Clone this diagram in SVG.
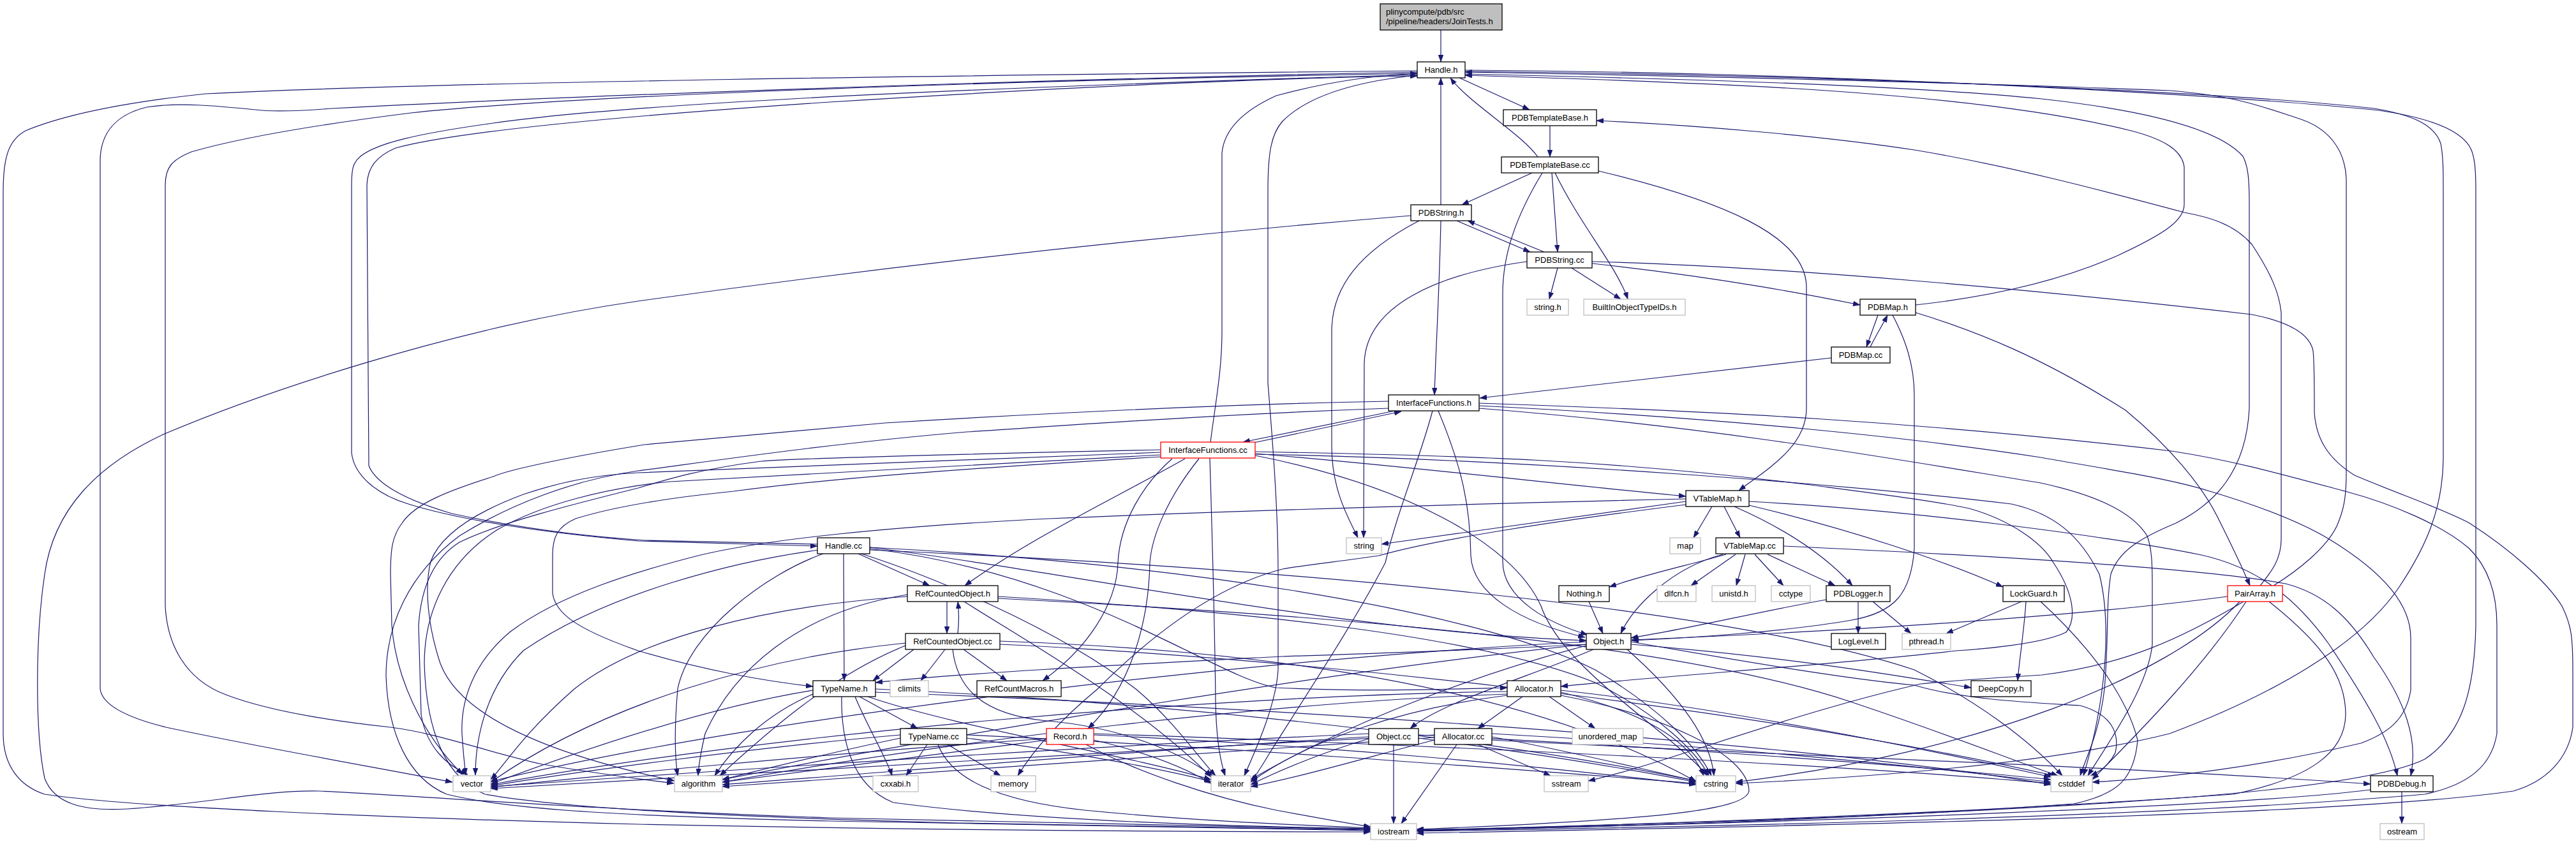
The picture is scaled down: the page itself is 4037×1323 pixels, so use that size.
<svg xmlns="http://www.w3.org/2000/svg" width="4037" height="1323" viewBox="0 0 4037 1323">
<style>
.n{fill:#fff;stroke:#000;stroke-width:1.3}
.x{fill:#fff;stroke:#bfbfbf;stroke-width:1.3}
.r{fill:#fff;stroke:#ff0000;stroke-width:1.3}
.t{font-family:"Liberation Sans",Arial,sans-serif;font-size:13px;fill:#000;text-anchor:middle}
.tl{font-family:"Liberation Sans",Arial,sans-serif;font-size:13px;fill:#000}
.e path{fill:none;stroke:#191970;stroke-width:1.2;marker-end:url(#a)}
</style>
<defs>
<marker id="a" markerWidth="11" markerHeight="8" refX="11" refY="4" orient="auto" markerUnits="userSpaceOnUse"><path d="M0,0 L11,4 L0,8 z" fill="#191970" stroke="#191970" stroke-width="0.5"/></marker>
</defs>
<rect width="4037" height="1323" fill="#fff"/>
<g id="edges" class="e">
<path d="M2258,47 L2258,97"/>
<path d="M2287,122 L2397,172"/>
<path d="M2429,197 L2429,246"/>
<path d="M2410,246 C2385,210 2300,160 2273,122"/>
<path d="M2258,321 L2258,122"/>
<path d="M2401,271 L2291,321"/>
<path d="M2432,271 L2441,395"/>
<path d="M2437,271 C2475,350 2535,420 2551,469"/>
<path d="M2417,271 C2375,340 2355,400 2355,460 L2355,880 C2355,940 2430,978 2488,995"/>
<path d="M2505,268 C2700,315 2831,370 2831,450 L2831,640 C2831,700 2770,735 2725,769"/>
<path d="M2283,346 L2398,395"/>
<path d="M2420,395 L2300,346"/>
<path d="M2258,346 C2256,450 2250,550 2248,619"/>
<path d="M2224,346 C2130,395 2087,450 2087,520 L2087,700 C2087,770 2115,815 2128,843"/>
<path d="M2393,410 C2250,430 2140,480 2138,570 L2137,843"/>
<path d="M2211,338 C1700,380 1300,430 1000,472 C700,515 400,620 258,680 C150,730 84,800 70,900 C55,1000 55,1150 70,1220 C85,1260 130,1272 200,1268 C320,1260 420,1238 500,1240 C620,1245 900,1268 1300,1282 C1700,1292 2000,1298 2148,1300"/>
<path d="M2221,111 C1500,118 700,128 322,147 C200,160 100,180 40,205 C12,220 5,250 5,300 L5,1150 C5,1200 30,1232 70,1245 C200,1265 600,1282 1000,1292 C1500,1302 1900,1304 2148,1304"/>
<path d="M2221,113 C1600,125 900,150 520,170 C470,174 430,176 400,172 C340,166 280,160 230,168 C180,180 158,210 157,250 L157,1080 C160,1105 200,1125 260,1140 C400,1170 600,1205 709,1226"/>
<path d="M2221,115 C1500,128 900,150 644,177 C500,195 380,215 300,238 C270,250 259,262 259,290 L259,950 C262,1010 290,1065 354,1089 C430,1118 540,1132 612,1140 C690,1150 760,1178 850,1198 C950,1215 1010,1222 1056,1228"/>
<path d="M2221,117 C1600,135 1000,160 773,193 C650,210 590,225 565,245 C553,255 551,265 551,290 L551,710 C555,745 590,775 640,790 C720,815 850,835 1000,848 C1150,853 1230,855 1281,856"/>
<path d="M1281,853 C1200,851 1100,849 1010,847 C900,840 800,825 708,805 C640,785 590,760 578,730 L575,290 C576,262 590,245 620,232 C720,205 1000,180 1300,160 C1700,135 2000,122 2221,119"/>
<path d="M1897,693 C1905,630 1915,580 1915,520 L1915,240 C1918,205 1945,175 2000,150 C2080,128 2160,118 2221,115"/>
<path d="M1896,718 C1900,850 1904,1000 1905,1100 C1906,1160 1913,1195 1920,1216"/>
<path d="M2221,118 C2100,130 2040,160 2010,190 C1992,210 1987,240 1987,300 L1987,600 C1995,700 2003,800 2003,900 L2003,1050 C2000,1100 1975,1160 1950,1216"/>
<path d="M3002,478 C3120,465 3230,440 3320,400 C3395,365 3423,345 3423,320 L3423,262 C3420,235 3390,218 3340,205 C3200,170 3000,150 2800,138 C2600,127 2400,121 2296,118"/>
<path d="M2296,116 C2700,125 3000,135 3200,155 C3380,175 3480,205 3515,245 C3523,260 3525,280 3525,320 L3525,640 C3520,740 3470,790 3410,820 C3350,845 3320,865 3308,900 C3300,950 3305,1000 3298,1080 C3290,1150 3268,1190 3260,1216"/>
<path d="M3563,918 C3600,895 3645,860 3662,825 C3673,800 3677,780 3677,740 L3677,280 C3675,235 3650,200 3600,185 C3540,165 3500,150 3400,142 C3100,130 2600,118 2296,113"/>
<path d="M2296,112 C2900,118 3500,145 3721,170 C3780,180 3815,195 3825,225 C3829,245 3829,270 3829,300 L3829,720 C3828,800 3800,860 3760,920 C3700,1010 3560,1090 3400,1150 C3200,1200 2900,1220 2720,1228"/>
<path d="M2296,110 C2900,114 3500,150 3728,173 C3810,185 3860,205 3873,235 C3879,250 3880,270 3880,300 L3880,980 C3878,1080 3860,1150 3800,1190 C3700,1240 3300,1262 2900,1280 C2600,1292 2350,1298 2220,1302"/>
<path d="M3542,918 C3556,900 3575,880 3575,845 L3575,490 C3572,460 3560,430 3529,383 C3500,350 3460,340 3423,333 C3300,300 3150,260 3000,235 C2850,212 2650,196 2502,189"/>
<path d="M2441,420 L2428,469"/>
<path d="M2463,420 L2540,469"/>
<path d="M2495,413 C2700,435 2850,465 2915,478"/>
<path d="M2495,410 C2800,418 3200,455 3529,493 C3590,505 3620,525 3625,550 C3627,570 3627,600 3627,647 C3630,690 3650,720 3690,745 C3760,775 3827,797 3870,820 C3932,860 3990,910 4015,950 C4030,980 4032,1000 4032,1050 L4032,1140 C4025,1190 3990,1225 3939,1240 C3700,1275 3000,1292 2220,1306"/>
<path d="M2943,494 L2925,544"/>
<path d="M2931,544 C2940,525 2950,510 2958,494"/>
<path d="M2870,561 L2319,624"/>
<path d="M3002,490 C3100,520 3200,560 3331,643 C3400,700 3450,760 3475,810 C3495,850 3510,880 3526,918"/>
<path d="M2966,494 C2985,530 3000,570 3000,620 L3000,860 C2995,930 2970,960 2902,972 C2800,990 2650,1000 2557,1004"/>
<path d="M2186,644 L1948,693"/>
<path d="M1960,695 L2196,645"/>
<path d="M2254,644 C2290,730 2304,790 2305,871 C2308,930 2380,975 2484,999"/>
<path d="M2245,644 C2225,720 2190,800 2171,882 C2120,980 2040,1100 1990,1180 C1975,1205 1965,1220 1960,1226"/>
<path d="M2176,629 C1900,634 1600,650 1387,663 C1200,680 1080,690 1010,697 C900,715 800,735 773,747 C700,770 650,790 630,820 C615,840 612,860 612,900 L614,980 C620,1060 660,1150 725,1214"/>
<path d="M2176,640 C1900,650 1700,665 1515,677 C1300,695 1100,725 1000,738 C900,752 800,790 720,840 C640,900 605,980 605,1060 C608,1150 640,1220 700,1245 C800,1270 1000,1280 1300,1287 C1700,1295 2000,1300 2148,1302"/>
<path d="M1819,705 C1500,712 1250,718 1193,723 C1100,735 1050,750 1000,765 C900,790 780,820 720,850 C680,875 660,920 656,980 L660,1120 C668,1170 700,1200 733,1214"/>
<path d="M1819,709 C1500,722 1200,733 1000,741 C930,745 880,755 820,775 C740,805 690,840 675,880 C665,920 670,980 690,1040 C720,1120 850,1180 1057,1224"/>
<path d="M1819,713 C1500,728 1200,745 1050,755 C950,765 850,790 780,830 C700,880 665,960 665,1040 C668,1150 700,1220 760,1245 C900,1270 1200,1282 1500,1290 C1800,1296 2000,1299 2148,1301"/>
<path d="M1819,716 C1500,735 1300,750 1150,770 C1050,780 960,795 902,813 C875,825 866,840 866,870 L866,930 C870,960 900,985 1000,1020 C1100,1050 1200,1068 1274,1076"/>
<path d="M2642,782 C2300,790 2000,798 1644,813 C1400,825 1200,845 1094,871 C1000,895 880,930 800,990 C740,1040 722,1100 724,1150 C726,1180 728,1200 730,1215"/>
<path d="M2642,791 C2450,815 2250,845 2161,871 C2100,880 2050,885 2010,892 C1900,920 1800,1000 1720,1080 C1660,1130 1620,1175 1595,1216"/>
<path d="M1283,862 C1150,880 950,930 820,1020 C760,1080 745,1160 745,1215"/>
<path d="M1422,935 C1200,950 1000,1000 900,1080 C820,1150 790,1200 769,1222"/>
<path d="M1419,1008 C1200,1030 950,1100 769,1226"/>
<path d="M1274,1082 C1100,1110 900,1180 769,1229"/>
<path d="M1411,1152 C1200,1170 900,1210 769,1232"/>
<path d="M1640,1158 C1300,1180 900,1220 769,1234"/>
<path d="M2362,1084 C1900,1090 1200,1150 769,1230"/>
<path d="M2145,1150 C1700,1170 1100,1210 769,1233"/>
<path d="M2248,1152 C1700,1180 1100,1215 769,1236"/>
<path d="M2486,1006 C2000,1030 1200,1120 769,1225"/>
<path d="M1422,932 C1250,960 1150,1050 1105,1150 C1098,1180 1095,1200 1094,1216"/>
<path d="M1274,1088 C1200,1120 1150,1170 1120,1216"/>
<path d="M1290,868 C1200,900 1080,990 1062,1080 C1056,1150 1058,1190 1062,1216"/>
<path d="M1411,1157 C1300,1180 1200,1205 1132,1222"/>
<path d="M1640,1160 C1450,1185 1250,1210 1132,1226"/>
<path d="M2362,1088 C2000,1100 1500,1160 1132,1226"/>
<path d="M2145,1155 C1800,1175 1400,1210 1132,1230"/>
<path d="M2248,1156 C1800,1185 1400,1215 1132,1233"/>
<path d="M2486,1010 C2100,1050 1500,1150 1132,1222"/>
<path d="M1419,1012 C1300,1060 1200,1150 1128,1216"/>
<path d="M1511,943 C1600,1000 1780,1100 1898,1218"/>
<path d="M1493,1018 C1500,1080 1540,1120 1640,1130 C1760,1140 1850,1180 1900,1216"/>
<path d="M1350,868 C1450,900 1650,980 1780,1080 C1840,1130 1880,1190 1905,1216"/>
<path d="M1360,1092 C1500,1140 1750,1180 1898,1222"/>
<path d="M1515,1157 C1650,1175 1800,1200 1898,1225"/>
<path d="M1714,1160 C1800,1180 1860,1205 1898,1228"/>
<path d="M2362,1090 C2200,1110 2050,1160 1960,1226"/>
<path d="M2145,1158 C2070,1180 2000,1210 1960,1230"/>
<path d="M2248,1160 C2150,1185 2050,1215 1960,1233"/>
<path d="M2486,1012 C2300,1060 2100,1140 1960,1222"/>
<path d="M1340,1092 C1360,1140 1390,1190 1398,1216"/>
<path d="M1453,1167 L1420,1216"/>
<path d="M1485,1167 L1568,1216"/>
<path d="M2446,1085 C2550,1110 2644,1149 2670,1216"/>
<path d="M2550,1018 C2620,1080 2680,1150 2686,1216"/>
<path d="M1564,935 C1900,955 2300,990 2500,1070 C2600,1120 2660,1180 2678,1216"/>
<path d="M1567,1005 C2000,1020 2400,1080 2658,1225"/>
<path d="M1363,858 C1800,880 2300,950 2500,1050 C2600,1110 2660,1170 2682,1216"/>
<path d="M1372,1080 C1800,1100 2300,1150 2658,1224"/>
<path d="M1515,1152 C1900,1170 2300,1200 2658,1228"/>
<path d="M1714,1152 C2100,1170 2400,1200 2658,1230"/>
<path d="M2223,1157 C2400,1180 2550,1205 2658,1226"/>
<path d="M2338,1155 C2450,1175 2570,1205 2658,1224"/>
<path d="M1967,714 C2200,760 2370,850 2415,950 C2450,1050 2610,1140 2676,1216"/>
<path d="M3510,943 C3400,1060 3100,1180 2720,1226"/>
<path d="M2318,636 C2700,655 3000,686 3198,717 C3300,735 3400,750 3463,770 C3530,790 3600,815 3650,845 C3740,900 3778,950 3778,1000 L3778,1082 C3770,1130 3740,1150 3700,1165 C3550,1200 3400,1220 3279,1226"/>
<path d="M2318,640 C2700,670 3000,725 3198,757 C3280,775 3340,800 3365,840 C3372,860 3373,880 3373,920 L3373,1010 C3366,1080 3300,1170 3272,1216"/>
<path d="M1967,712 C2400,720 2900,760 3152,790 C3220,805 3260,840 3290,900 C3310,980 3300,1100 3265,1216"/>
<path d="M2556,1006 C2750,1040 2900,1065 3000,1074 C3080,1098 3200,1102 3260,1106 C3310,1120 3322,1150 3315,1180 C3305,1200 3290,1210 3276,1216"/>
<path d="M2223,1152 C2600,1170 3000,1200 3214,1222"/>
<path d="M2446,1082 C2700,1110 3000,1170 3214,1218"/>
<path d="M2338,1150 C2700,1170 3000,1200 3214,1226"/>
<path d="M1372,1085 C2000,1110 2800,1160 3214,1230"/>
<path d="M1714,1150 C2300,1170 2900,1200 3214,1228"/>
<path d="M1564,938 C2000,960 2600,1000 2900,1100 C3050,1150 3150,1190 3225,1216"/>
<path d="M1567,1010 C2000,1030 2700,1100 3220,1216"/>
<path d="M1363,862 C2000,890 2700,950 3000,1050 C3100,1100 3180,1160 3232,1216"/>
<path d="M3520,943 C3450,1050 3350,1150 3279,1222"/>
<path d="M2338,1160 C2800,1185 3300,1200 3715,1229"/>
<path d="M2741,786 C3000,800 3300,840 3450,870 C3540,890 3600,940 3650,1010 C3710,1100 3745,1160 3757,1216"/>
<path d="M2795,856 C3100,870 3450,890 3582,915 C3640,930 3681,965 3720,1030 C3770,1100 3790,1160 3778,1216"/>
<path d="M3764,1241 L3764,1291"/>
<path d="M3715,1238 C3500,1265 2800,1290 2220,1302"/>
<path d="M2184,1167 L2184,1291"/>
<path d="M2283,1167 L2196,1291"/>
<path d="M2446,1090 C2600,1120 2740,1180 2741,1240 C2735,1270 2600,1285 2220,1300"/>
<path d="M1319,1092 C1318,1150 1330,1230 1400,1258 C1600,1285 1900,1295 2148,1299"/>
<path d="M1470,1167 C1490,1220 1560,1255 1700,1270 C1850,1285 2000,1292 2148,1298"/>
<path d="M1702,1167 C1780,1210 1900,1250 2000,1270 C2080,1285 2120,1292 2148,1296"/>
<path d="M2318,632 C2700,645 3000,660 3403,707 C3500,722 3575,743 3675,770 C3750,790 3827,823 3870,860 C3900,890 3913,930 3913,980 L3913,1150 C3905,1200 3870,1230 3800,1245 C3400,1280 2700,1296 2220,1303"/>
<path d="M3198,943 C3260,1000 3330,1080 3350,1160 C3345,1220 3320,1245 3250,1260 C2900,1285 2500,1297 2220,1302"/>
<path d="M3556,943 C3640,1010 3676,1060 3676,1120 C3675,1180 3620,1220 3500,1245 C3000,1280 2500,1295 2220,1301"/>
<path d="M2316,1167 L2430,1216"/>
<path d="M3516,943 C3420,1000 3331,1042 3200,1058 C3100,1064 3050,1068 3010,1072 C2800,1120 2600,1200 2489,1224"/>
<path d="M2428,1092 L2500,1142"/>
<path d="M2386,1092 L2316,1142"/>
<path d="M2497,1018 C2400,1060 2260,1100 2210,1142"/>
<path d="M2486,1010 C2300,1020 2100,1026 2010,1029 C1800,1040 1500,1055 1372,1070"/>
<path d="M1363,860 C1700,900 1900,1060 2000,1078 C2150,1085 2280,1080 2362,1078"/>
<path d="M1967,708 C2300,714 2515,720 2837,760 C2950,775 3030,785 3086,797 C3150,815 3200,850 3218,882 C3250,930 3255,970 3238,991 C3200,1010 3100,1018 3066,1020 C2900,1040 2600,1060 2446,1076"/>
<path d="M2556,1010 C2800,1030 2950,1055 3089,1078"/>
<path d="M3175,943 C3172,990 3165,1030 3162,1067"/>
<path d="M3168,943 L3050,993"/>
<path d="M2935,943 L2995,993"/>
<path d="M2912,943 L2912,993"/>
<path d="M2862,940 C2750,960 2650,985 2556,1000"/>
<path d="M2490,943 L2512,993"/>
<path d="M2705,869 C2650,885 2580,900 2522,920"/>
<path d="M2700,869 C2620,890 2560,950 2540,993"/>
<path d="M2720,869 L2650,918"/>
<path d="M2735,869 L2721,918"/>
<path d="M2750,869 L2795,918"/>
<path d="M2770,869 L2876,918"/>
<path d="M2718,794 C2800,830 2860,870 2903,918"/>
<path d="M2741,792 C2900,830 3050,880 3139,920"/>
<path d="M2683,794 L2654,843"/>
<path d="M2702,794 L2727,843"/>
<path d="M2642,786 L2165,853"/>
<path d="M1967,711 C2200,730 2450,760 2642,778"/>
<path d="M1857,719 C1750,780 1620,840 1512,918"/>
<path d="M1837,719 C1790,760 1755,820 1752,882 C1750,950 1700,1020 1634,1067"/>
<path d="M1879,719 C1830,780 1805,840 1802,882 C1800,980 1770,1080 1705,1142"/>
<path d="M1345,868 L1457,918"/>
<path d="M1322,868 L1323,1067"/>
<path d="M1484,943 L1484,993"/>
<path d="M1501,993 C1503,975 1503,960 1501,943"/>
<path d="M1432,1018 L1368,1067"/>
<path d="M1481,1018 L1443,1067"/>
<path d="M1510,1018 L1578,1067"/>
<path d="M1347,1092 L1438,1142"/>
<path d="M3491,935 C3300,960 3000,985 2557,1003"/>
<path d="M1363,858 C1700,900 2100,990 2486,1004"/>
</g>
<g id="nodes">
<g id="node-JoinTests_h"><rect x="2163" y="6" width="191" height="41" fill="#bfbfbf" stroke="#000" stroke-width="1.3"/><text class="tl" x="2172" y="23">plinycompute/pdb/src</text><text class="tl" x="2172" y="38">/pipeline/headers/JoinTests.h</text></g>
<g id="node-Handle_h"><rect class="n" x="2221" y="97" width="75" height="25"/><text class="t" x="2258.5" y="114">Handle.h</text></g>
<g id="node-PDBTemplateBase_h"><rect class="n" x="2356" y="172" width="146" height="25"/><text class="t" x="2429" y="189">PDBTemplateBase.h</text></g>
<g id="node-PDBTemplateBase_cc"><rect class="n" x="2353" y="246" width="152" height="25"/><text class="t" x="2429" y="263">PDBTemplateBase.cc</text></g>
<g id="node-PDBString_h"><rect class="n" x="2211" y="321" width="95" height="25"/><text class="t" x="2258.5" y="338">PDBString.h</text></g>
<g id="node-PDBString_cc"><rect class="n" x="2393" y="395" width="102" height="25"/><text class="t" x="2444" y="412">PDBString.cc</text></g>
<g id="node-string_h"><rect class="x" x="2393" y="469" width="65" height="25"/><text class="t" x="2425.5" y="486">string.h</text></g>
<g id="node-BuiltInObjectTypeIDs_h"><rect class="x" x="2482" y="469" width="159" height="25"/><text class="t" x="2561.5" y="486">BuiltInObjectTypeIDs.h</text></g>
<g id="node-PDBMap_h"><rect class="n" x="2915" y="469" width="87" height="25"/><text class="t" x="2958.5" y="486">PDBMap.h</text></g>
<g id="node-PDBMap_cc"><rect class="n" x="2870" y="544" width="92" height="25"/><text class="t" x="2916" y="561">PDBMap.cc</text></g>
<g id="node-InterfaceFunctions_h"><rect class="n" x="2176" y="619" width="142" height="25"/><text class="t" x="2247" y="636">InterfaceFunctions.h</text></g>
<g id="node-InterfaceFunctions_cc"><rect class="r" x="1819" y="693" width="148" height="25"/><text class="t" x="1893" y="710">InterfaceFunctions.cc</text></g>
<g id="node-VTableMap_h"><rect class="n" x="2642" y="769" width="99" height="25"/><text class="t" x="2691.5" y="786">VTableMap.h</text></g>
<g id="node-Handle_cc"><rect class="n" x="1281" y="843" width="82" height="25"/><text class="t" x="1322" y="860">Handle.cc</text></g>
<g id="node-string"><rect class="x" x="2110" y="843" width="55" height="25"/><text class="t" x="2137.5" y="860">string</text></g>
<g id="node-map"><rect class="x" x="2617" y="843" width="48" height="25"/><text class="t" x="2641" y="860">map</text></g>
<g id="node-VTableMap_cc"><rect class="n" x="2689" y="843" width="106" height="25"/><text class="t" x="2742" y="860">VTableMap.cc</text></g>
<g id="node-RefCountedObject_h"><rect class="n" x="1422" y="918" width="142" height="25"/><text class="t" x="1493" y="935">RefCountedObject.h</text></g>
<g id="node-Nothing_h"><rect class="n" x="2443" y="918" width="79" height="25"/><text class="t" x="2482.5" y="935">Nothing.h</text></g>
<g id="node-dlfcn_h"><rect class="x" x="2597" y="918" width="61" height="25"/><text class="t" x="2627.5" y="935">dlfcn.h</text></g>
<g id="node-unistd_h"><rect class="x" x="2683" y="918" width="68" height="25"/><text class="t" x="2717" y="935">unistd.h</text></g>
<g id="node-cctype"><rect class="x" x="2776" y="918" width="61" height="25"/><text class="t" x="2806.5" y="935">cctype</text></g>
<g id="node-PDBLogger_h"><rect class="n" x="2862" y="918" width="100" height="25"/><text class="t" x="2912" y="935">PDBLogger.h</text></g>
<g id="node-LockGuard_h"><rect class="n" x="3139" y="918" width="96" height="25"/><text class="t" x="3187" y="935">LockGuard.h</text></g>
<g id="node-PairArray_h"><rect class="r" x="3491" y="918" width="86" height="25"/><text class="t" x="3534" y="935">PairArray.h</text></g>
<g id="node-RefCountedObject_cc"><rect class="n" x="1419" y="993" width="148" height="25"/><text class="t" x="1493" y="1010">RefCountedObject.cc</text></g>
<g id="node-Object_h"><rect class="n" x="2486" y="993" width="70" height="25"/><text class="t" x="2521" y="1010">Object.h</text></g>
<g id="node-LogLevel_h"><rect class="n" x="2870" y="993" width="85" height="25"/><text class="t" x="2912.5" y="1010">LogLevel.h</text></g>
<g id="node-pthread_h"><rect class="x" x="2981" y="993" width="76" height="25"/><text class="t" x="3019" y="1010">pthread.h</text></g>
<g id="node-TypeName_h"><rect class="n" x="1274" y="1067" width="98" height="25"/><text class="t" x="1323" y="1084">TypeName.h</text></g>
<g id="node-climits"><rect class="x" x="1395" y="1067" width="60" height="25"/><text class="t" x="1425" y="1084">climits</text></g>
<g id="node-RefCountMacros_h"><rect class="n" x="1531" y="1067" width="132" height="25"/><text class="t" x="1597" y="1084">RefCountMacros.h</text></g>
<g id="node-Allocator_h"><rect class="n" x="2362" y="1067" width="84" height="25"/><text class="t" x="2404" y="1084">Allocator.h</text></g>
<g id="node-DeepCopy_h"><rect class="n" x="3089" y="1067" width="94" height="25"/><text class="t" x="3136" y="1084">DeepCopy.h</text></g>
<g id="node-TypeName_cc"><rect class="n" x="1411" y="1142" width="104" height="25"/><text class="t" x="1463" y="1159">TypeName.cc</text></g>
<g id="node-Record_h"><rect class="r" x="1640" y="1142" width="74" height="25"/><text class="t" x="1677" y="1159">Record.h</text></g>
<g id="node-Object_cc"><rect class="n" x="2145" y="1142" width="78" height="25"/><text class="t" x="2184" y="1159">Object.cc</text></g>
<g id="node-Allocator_cc"><rect class="n" x="2248" y="1142" width="90" height="25"/><text class="t" x="2293" y="1159">Allocator.cc</text></g>
<g id="node-unordered_map"><rect class="x" x="2464" y="1142" width="111" height="25"/><text class="t" x="2519.5" y="1159">unordered_map</text></g>
<g id="node-vector"><rect class="x" x="710" y="1216" width="59" height="25"/><text class="t" x="739.5" y="1233">vector</text></g>
<g id="node-algorithm"><rect class="x" x="1057" y="1216" width="75" height="25"/><text class="t" x="1094.5" y="1233">algorithm</text></g>
<g id="node-cxxabi_h"><rect class="x" x="1368" y="1216" width="71" height="25"/><text class="t" x="1403.5" y="1233">cxxabi.h</text></g>
<g id="node-memory"><rect class="x" x="1553" y="1216" width="70" height="25"/><text class="t" x="1588" y="1233">memory</text></g>
<g id="node-iterator"><rect class="x" x="1898" y="1216" width="62" height="25"/><text class="t" x="1929" y="1233">iterator</text></g>
<g id="node-sstream"><rect class="x" x="2420" y="1216" width="69" height="25"/><text class="t" x="2454.5" y="1233">sstream</text></g>
<g id="node-cstring"><rect class="x" x="2658" y="1216" width="62" height="25"/><text class="t" x="2689" y="1233">cstring</text></g>
<g id="node-cstddef"><rect class="x" x="3214" y="1216" width="65" height="25"/><text class="t" x="3246.5" y="1233">cstddef</text></g>
<g id="node-PDBDebug_h"><rect class="n" x="3715" y="1216" width="98" height="25"/><text class="t" x="3764" y="1233">PDBDebug.h</text></g>
<g id="node-iostream"><rect class="x" x="2148" y="1291" width="72" height="25"/><text class="t" x="2184" y="1308">iostream</text></g>
<g id="node-ostream"><rect class="x" x="3730" y="1291" width="69" height="25"/><text class="t" x="3764.5" y="1308">ostream</text></g>
</g>
</svg>
